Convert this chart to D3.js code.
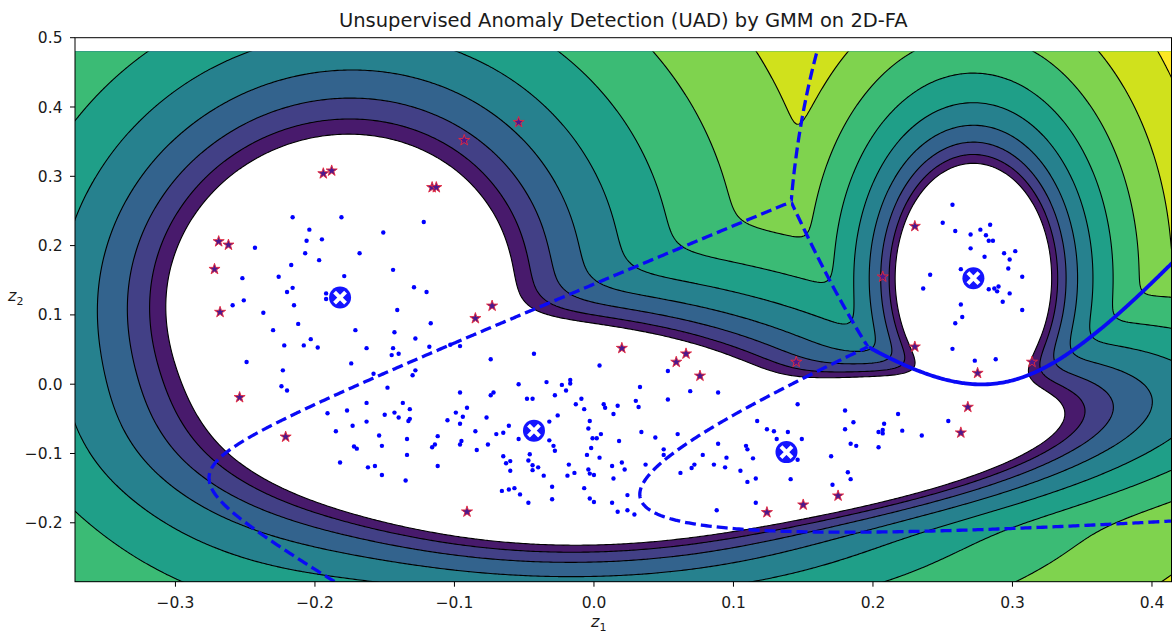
<!DOCTYPE html>
<html>
<head>
<meta charset="utf-8">
<script src="https://cdn.jsdelivr.net/npm/d3@7"></script>
<style>
  body { margin: 0; background: #fff; }
  svg text { font-family: "DejaVu Sans", sans-serif; fill: #1a1a1a; }
</style>
</head>
<body>
<svg id="chart" width="1176" height="633"></svg>
<script>
// ---- Gaussian mixture model: one entry per component ----
const compMeanX  = [-0.182, -0.043, 0.138, 0.272];
const compMeanY  = [ 0.125, -0.067, -0.098, 0.153];
const compSdX    = [ 0.054,  0.078, 0.076, 0.022];
const compSdY    = [ 0.102,  0.060, 0.042, 0.065];
const compCorr   = [ 0.05,  -0.10,  0.50,  0.00];
const compWeight = [ 0.184,  0.40,  0.20,  0.0853];

// contour levels of the negative log-likelihood (log-spaced from 1 to 100)
const nllLevels = [1, 1.520, 2.310, 3.511, 5.337, 8.111, 12.33, 18.74, 28.48, 43.29, 65.79, 100];
const colorNormMax = 30;

const xTicks = [-0.3, -0.2, -0.1, 0.0, 0.1, 0.2, 0.3, 0.4];
const yTicks = [-0.2, -0.1, 0.0, 0.1, 0.2, 0.3, 0.4, 0.5];

// decision-boundary style between component pairs
const boundaryPairs = [[0, 1, "dashed"], [0, 2, "dashed"], [0, 3, "dashed"],
                       [1, 2, "dashed"], [1, 3, "dashed"], [2, 3, "solid"]];

// samples in the 2-D factor space
const normalPoints = [
  [-0.216,0.241],[-0.181,0.241],[-0.122,0.234],[-0.204,0.223],[-0.151,0.219],
  [-0.206,0.207],[-0.195,0.209],[-0.243,0.197],[-0.207,0.189],[-0.168,0.189],
  [-0.197,0.179],[-0.217,0.172],[-0.144,0.165],[-0.252,0.153],[-0.226,0.155],
  [-0.179,0.156],[-0.216,0.139],[-0.220,0.133],[-0.129,0.140],[-0.120,0.133],
  [-0.192,0.131],[-0.192,0.123],[-0.251,0.121],[-0.259,0.114],[-0.215,0.114],
  [-0.141,0.107],[-0.237,0.103],[-0.212,0.087],[-0.230,0.078],[-0.171,0.078],
  [-0.143,0.075],[-0.128,0.066],[-0.203,0.065],[-0.222,0.056],[-0.208,0.056],
  [-0.198,0.053],[-0.163,0.052],[-0.144,0.052],[-0.145,0.042],[-0.140,0.044],
  [-0.249,0.032],[-0.174,0.030],[-0.117,0.088],[-0.118,0.054],[-0.223,0.020],
  [-0.128,0.020],[-0.130,0.013],[-0.158,0.015],[-0.096,0.055],[-0.103,0.057],
  [-0.224,-0.003],[-0.220,-0.009],[-0.074,0.036],[-0.148,-0.005],[-0.054,0.000],
  [-0.096,-0.012],[-0.072,-0.012],[-0.074,-0.016],[-0.048,-0.021],[-0.163,-0.027],
  [-0.137,-0.027],[-0.132,-0.036],[-0.191,-0.042],[-0.177,-0.038],[-0.150,-0.044],
  [-0.143,-0.041],[-0.140,-0.048],[-0.132,-0.050],[-0.133,-0.053],[-0.099,-0.041],
  [-0.091,-0.034],[-0.094,-0.047],[-0.105,-0.052],[-0.096,-0.057],[-0.077,-0.048],
  [-0.061,-0.060],[-0.163,-0.054],[-0.173,-0.060],[-0.185,-0.068],[-0.085,-0.068],
  [-0.070,-0.072],[-0.065,-0.070],[-0.054,-0.079],[-0.154,-0.074],[-0.134,-0.079],
  [-0.112,-0.075],[-0.095,-0.082],[-0.096,-0.087],[-0.172,-0.090],[-0.170,-0.093],
  [-0.152,-0.089],[-0.114,-0.087],[-0.116,-0.091],[-0.084,-0.095],[-0.076,-0.087],
  [-0.134,-0.102],[-0.065,-0.104],[-0.060,-0.111],[-0.063,-0.114],[-0.046,-0.101],
  [-0.182,-0.113],[-0.162,-0.120],[-0.157,-0.118],[-0.112,-0.118],[-0.060,-0.125],
  [-0.152,-0.131],[-0.135,-0.139],[-0.066,-0.154],[-0.061,-0.152],[-0.057,-0.150],
  [-0.053,-0.159],[-0.047,-0.171],
  [-0.043,0.044],[0.004,0.027],[0.053,0.019],[-0.034,0.003],[-0.023,-0.001],
  [-0.020,-0.009],[-0.017,0.006],[-0.017,0.001],[-0.028,-0.016],[-0.044,-0.021],
  [0.033,-0.004],[-0.013,-0.029],[-0.009,-0.021],[-0.007,-0.036],[0.007,-0.029],
  [0.008,-0.034],[0.017,-0.031],[0.030,-0.024],[0.032,-0.033],[0.053,-0.022],
  [0.014,-0.043],[-0.026,-0.045],[-0.032,-0.054],[-0.003,-0.053],[-0.004,-0.064],
  [0.034,-0.069],[0.044,-0.077],[0.060,-0.072],[0.018,-0.082],[-0.001,-0.078],
  [0.002,-0.078],[0.005,-0.072],[-0.032,-0.081],[-0.029,-0.089],[-0.028,-0.096],
  [-0.002,-0.092],[-0.005,-0.102],[0.004,-0.106],[0.050,-0.094],[0.050,-0.102],
  [-0.047,-0.110],[-0.044,-0.117],[-0.040,-0.120],[-0.044,-0.124],[-0.036,-0.132],
  [-0.018,-0.116],[-0.014,-0.128],[-0.019,-0.132],[-0.004,-0.123],[-0.003,-0.129],
  [0.000,-0.131],[0.013,-0.118],[0.020,-0.113],[0.022,-0.123],[0.037,-0.116],
  [0.014,-0.136],[-0.030,-0.148],[-0.007,-0.150],[-0.030,-0.166],[-0.003,-0.165],
  [0.000,-0.170],[0.024,-0.160],[0.013,-0.171],[0.017,-0.184],[0.024,-0.182],
  [0.029,-0.188],
  [0.089,-0.012],[0.069,-0.010],[0.117,-0.053],[0.124,-0.065],[0.129,-0.068],
  [0.131,-0.079],[0.089,-0.086],[0.109,-0.089],[0.110,-0.094],[0.114,-0.107],
  [0.095,-0.106],[0.078,-0.102],[0.072,-0.116],[0.070,-0.121],[0.086,-0.116],
  [0.094,-0.120],[0.105,-0.125],[0.116,-0.136],[0.110,-0.141],[0.062,-0.128],
  [0.116,-0.171],[0.088,-0.182],[0.146,-0.029],[0.180,-0.038],[0.218,-0.043],
  [0.186,-0.055],[0.208,-0.057],[0.254,-0.053],[0.139,-0.069],[0.149,-0.079],
  [0.180,-0.065],[0.204,-0.069],[0.207,-0.066],[0.207,-0.071],[0.221,-0.067],
  [0.235,-0.074],[0.184,-0.086],[0.188,-0.089],[0.204,-0.091],[0.146,-0.109],
  [0.170,-0.104],[0.141,-0.137],[0.182,-0.127],[0.184,-0.137],[0.171,-0.145],
  [0.257,0.259],[0.250,0.233],[0.259,0.221],[0.270,0.216],[0.277,0.223],
  [0.284,0.230],[0.281,0.215],[0.283,0.207],[0.286,0.207],[0.270,0.196],
  [0.280,0.184],[0.294,0.189],[0.302,0.192],[0.298,0.180],[0.297,0.167],
  [0.263,0.166],[0.241,0.158],[0.307,0.155],[0.236,0.138],[0.283,0.137],
  [0.287,0.138],[0.290,0.141],[0.289,0.134],[0.298,0.131],[0.293,0.119],
  [0.263,0.115],[0.307,0.107],[0.264,0.097],[0.259,0.088],[0.257,0.051],
  [0.273,0.034],[0.288,0.036]
];

// samples flagged as anomalies (low likelihood)
const anomalyPoints = [
  [-0.269,0.206],[-0.262,0.201],[-0.272,0.166],[-0.268,0.104],[-0.254,-0.019],
  [-0.221,-0.076],[-0.194,0.304],[-0.188,0.308],[-0.116,0.284],[-0.113,0.284],
  [-0.093,0.352],[-0.054,0.378],[-0.073,0.113],[-0.085,0.095],[-0.091,-0.184],
  [0.020,0.052],[0.059,0.032],[0.066,0.044],[0.076,0.012],[0.124,-0.185],
  [0.150,-0.174],[0.175,-0.161],[0.268,-0.033],[0.263,-0.070],[0.230,0.228],
  [0.230,0.054],[0.275,0.016],[0.314,0.032],[0.207,0.155],[0.145,0.032]
];

// ---- layout ----
const plotLeft = 75, plotRight = 1171.5, plotTop = 37.7, plotBottom = 581.7;
const x = d3.scaleLinear().domain([-0.372, 0.414]).range([plotLeft, plotRight]);
const y = d3.scaleLinear().domain([-0.285, 0.5]).range([plotBottom, plotTop]);
const fieldTop = 0.48;   // upper end of the evaluated mesh

const svg = d3.select("#chart");
const defs = svg.append("defs");
defs.append("clipPath").attr("id", "fieldClip").append("rect")
  .attr("x", plotLeft).attr("y", y(fieldTop))
  .attr("width", plotRight - plotLeft).attr("height", plotBottom - y(fieldTop));
defs.append("clipPath").attr("id", "plotClip").append("rect")
  .attr("x", plotLeft).attr("y", plotTop)
  .attr("width", plotRight - plotLeft).attr("height", plotBottom - plotTop);

// ---- evaluate the mixture on a mesh that reaches past the axes ----
const step = 0.0018, gx0 = -0.40, gy0 = -0.31;
const nx = Math.ceil((0.44 - gx0) / step) + 1;
const ny = Math.ceil((0.52 - gy0) / step) + 1;
const K = compMeanX.length;
const comps = d3.range(K).map(k => {
  const sx = compSdX[k], sy = compSdY[k], r = compCorr[k], det = 1 - r * r;
  return { mx: compMeanX[k], my: compMeanY[k], sx, sy, r, det,
           c: Math.log(compWeight[k]) - Math.log(2 * Math.PI * sx * sy * Math.sqrt(det)) };
});
const logp = comps.map(() => new Float64Array(nx * ny));
const nll = new Float64Array(nx * ny);
for (let j = 0; j < ny; j++) {
  const yy = gy0 + j * step;
  for (let i = 0; i < nx; i++) {
    const xx = gx0 + i * step, idx = j * nx + i;
    let m = -Infinity;
    for (let k = 0; k < K; k++) {
      const c = comps[k];
      const u = (xx - c.mx) / c.sx, v = (yy - c.my) / c.sy;
      const lp = c.c - 0.5 * (u * u + v * v - 2 * c.r * u * v) / c.det;
      logp[k][idx] = lp;
      if (lp > m) m = lp;
    }
    let s = 0;
    for (let k = 0; k < K; k++) s += Math.exp(logp[k][idx] - m);
    nll[idx] = -(m + Math.log(s));
  }
}

// mesh coordinates -> pixels
const meshPath = d3.geoPath(d3.geoTransform({
  point(cx, cy) {
    this.stream.point(x(gx0 + (cx - 0.5) * step), y(gy0 + (cy - 0.5) * step));
  }
}));
const contourGen = d3.contours().size([nx, ny]);

// ---- filled density bands and their outlines ----
const bandColor = nllLevels.map((lv, i) => {
  const hi = i + 1 < nllLevels.length ? nllLevels[i + 1] : lv;
  const t = Math.log((lv + hi) / 2) / Math.log(colorNormMax);
  return d3.interpolateViridis(Math.max(0, Math.min(1, t)));
});
const bands = contourGen.thresholds(nllLevels)(nll);
const field = svg.append("g").attr("clip-path", "url(#fieldClip)");
field.selectAll("path.band").data(bands).join("path")
  .attr("class", "band")
  .attr("d", meshPath)
  .attr("fill", (d, i) => bandColor[i])
  .attr("fill-rule", "evenodd");
field.selectAll("path.level").data(bands).join("path")
  .attr("class", "level")
  .attr("d", meshPath)
  .attr("fill", "none")
  .attr("stroke", "#000")
  .attr("stroke-width", 1.1);

// ---- decision boundaries between the winning components ----
const bounds = svg.append("g").attr("clip-path", "url(#fieldClip)");
boundaryPairs.forEach(([a, b, style], n) => {
  const diff = new Float64Array(nx * ny), gap = new Float64Array(nx * ny);
  for (let idx = 0; idx < nx * ny; idx++) {
    let other = -Infinity;
    for (let k = 0; k < K; k++) if (k !== a && k !== b && logp[k][idx] > other) other = logp[k][idx];
    diff[idx] = logp[a][idx] - logp[b][idx];
    gap[idx] = Math.min(logp[a][idx], logp[b][idx]) - other;
  }
  const gapGeo = d3.contours().size([nx, ny]).contour(gap, 0);
  if (!gapGeo.coordinates.length) return;
  defs.append("clipPath").attr("id", "pair" + n).append("path")
    .attr("d", meshPath(gapGeo)).attr("clip-rule", "evenodd");
  const diffGeo = d3.contours().size([nx, ny]).contour(diff, 0);
  bounds.append("g").attr("clip-path", `url(#pair${n})`)
    .append("path")
    .attr("d", meshPath(diffGeo))
    .attr("fill", "none")
    .attr("stroke", "#0a0af5")
    .attr("stroke-width", style === "dashed" ? 3.3 : 3.8)
    .attr("stroke-dasharray", style === "dashed" ? "11,5" : null);
});

// ---- samples ----
const marks = svg.append("g").attr("clip-path", "url(#plotClip)");
marks.selectAll("circle.pt").data(normalPoints).join("circle")
  .attr("class", "pt")
  .attr("cx", d => x(d[0])).attr("cy", d => y(d[1]))
  .attr("r", 2.2).attr("fill", "#0000ff");

const star = d3.symbol().type(d3.symbolStar).size(38);
marks.selectAll("path.anom").data(anomalyPoints).join("path")
  .attr("class", "anom")
  .attr("transform", d => `translate(${x(d[0])},${y(d[1])})`)
  .attr("d", star)
  .attr("fill", "#4a1a8e")
  .attr("stroke", "#e8283c")
  .attr("stroke-width", 0.9);

// ---- component centres ----
const centres = compMeanX.map((mx, k) => [mx, compMeanY[k]]);
const cg = marks.selectAll("g.centre").data(centres).join("g")
  .attr("class", "centre")
  .attr("transform", d => `translate(${x(d[0])},${y(d[1])})`);
cg.append("circle").attr("r", 11).attr("fill", "#0000ff").attr("opacity", 0.92);
cg.append("path").attr("d", "M-5.5,-5.5L5.5,5.5M-5.5,5.5L5.5,-5.5")
  .attr("stroke", "#fff").attr("stroke-width", 4);

// ---- axes ----
svg.append("rect")
  .attr("x", plotLeft).attr("y", plotTop)
  .attr("width", plotRight - plotLeft).attr("height", plotBottom - plotTop)
  .attr("fill", "none").attr("stroke", "#000").attr("stroke-width", 1);

const fmt = v => (v < 0 ? "\u2212" : "") + Math.abs(v).toFixed(1);
const xa = svg.append("g");
xTicks.forEach(t => {
  xa.append("line").attr("x1", x(t)).attr("x2", x(t))
    .attr("y1", plotBottom).attr("y2", plotBottom + 5).attr("stroke", "#000");
  xa.append("text").attr("x", x(t)).attr("y", 607.5)
    .attr("text-anchor", "middle").attr("font-size", 15.5).text(fmt(t));
});
const ya = svg.append("g");
yTicks.forEach(t => {
  ya.append("line").attr("x1", plotLeft - 5).attr("x2", plotLeft)
    .attr("y1", y(t)).attr("y2", y(t)).attr("stroke", "#000");
  ya.append("text").attr("x", 62.5).attr("y", y(t)).attr("dy", "0.36em")
    .attr("text-anchor", "end").attr("font-size", 15.5).text(fmt(t));
});

// axis labels z1, z2
const xl = svg.append("text").attr("x", 591).attr("y", 627).attr("font-size", 16);
xl.append("tspan").attr("font-style", "italic").text("z");
xl.append("tspan").attr("font-size", 11).attr("dy", 3.5).text("1");
const yl = svg.append("text").attr("x", 8).attr("y", 301).attr("font-size", 16);
yl.append("tspan").attr("font-style", "italic").text("z");
yl.append("tspan").attr("font-size", 11).attr("dy", 3.5).text("2");

// title
svg.append("text").attr("x", (plotLeft + plotRight) / 2).attr("y", 27)
  .attr("text-anchor", "middle").attr("font-size", 19.5)
  .text("Unsupervised Anomaly Detection (UAD) by GMM on 2D-FA");
</script>
</body>
</html>
